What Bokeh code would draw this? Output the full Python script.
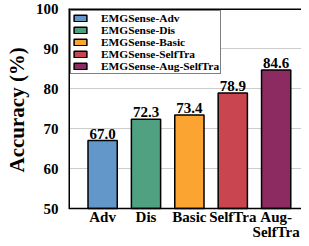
from bokeh.plotting import figure
from bokeh.models import ColumnDataSource, Range1d, FixedTicker, Legend, LegendItem, LabelSet, Title
from bokeh.core.properties import value
from bokeh.embed import file_html
from bokeh.resources import INLINE

categories = ["Adv", "Dis", "Basic", "SelfTra", "Aug-\nSelfTra"]
series_names = ["EMGSense-Adv", "EMGSense-Dis", "EMGSense-Basic", "EMGSense-SelfTra", "EMGSense-Aug-SelfTra"]
accuracy = [67.0, 72.3, 73.4, 78.9, 84.6]
colors = ["#6396C9", "#4FA182", "#FBA431", "#C94651", "#8C2A62"]
y_ticks = [50, 60, 70, 80, 90, 100]
y_min, y_max = 50, 100
y_title = "Accuracy (%)"

FONT = "Liberation Serif"

xs = list(range(len(categories)))
src = ColumnDataSource(dict(
    x=xs, y=accuracy, color=colors, name=series_names,
    label=[f"{v:.1f}" for v in accuracy],
))
cat_src = ColumnDataSource(dict(x=xs, y=[y_min] * len(xs), text=categories))

X0, X1 = -0.7865, 4.584
p = figure(width=301, height=238, output_backend="svg", toolbar_location=None,
           x_axis_location=None,
           x_range=Range1d(X0, X1), y_range=Range1d(42.5, y_max),
           min_border_left=62, min_border_right=0, min_border_top=8, min_border_bottom=0)

r = p.vbar(x="x", top="y", bottom=y_min, width=0.674, source=src, fill_color="color",
           line_color="black", line_width=1.5)

# frame lines (left, top, bottom at y=50)
p.segment(x0=[X0, X0], y0=[y_min, y_max], x1=[X0, X1], y1=[y_max, y_max],
          line_color="black", line_width=3)
p.segment(x0=[X0], y0=[y_min], x1=[X1], y1=[y_min], line_color="black", line_width=1.5)

labels = LabelSet(x="x", y="y", text="label", source=src, text_align="center",
                  text_baseline="bottom", y_offset=2, text_font=FONT,
                  text_font_style="bold", text_font_size="15px", text_color="black")
p.add_layout(labels)

# category labels under the axis line
p.text(x="x", y="y", text="text", source=cat_src, text_align="center",
       text_baseline="top", y_offset=0, text_font=value(FONT), text_font_style="bold",
       text_font_size="15px", text_color="black", text_line_height=0.95)

legend = Legend(items=[LegendItem(label=n, renderers=[r], index=i) for i, n in enumerate(series_names)],
                location="top_left")
legend.label_text_font = FONT
legend.label_text_font_style = "bold"
legend.label_text_font_size = "11.4px"
legend.label_text_color = "black"
legend.glyph_width = 16
legend.glyph_height = 8
legend.label_height = 8
legend.spacing = 0
legend.padding = 1
legend.margin = 2
legend.label_standoff = 13
legend.border_line_color = "black"
legend.border_line_width = 1
legend.background_fill_alpha = 1
p.add_layout(legend)

p.yaxis.ticker = FixedTicker(ticks=y_ticks)
p.yaxis.major_label_text_font = FONT
p.yaxis.major_label_text_font_style = "bold"
p.yaxis.major_label_text_font_size = "15px"
p.yaxis.major_label_text_color = "black"
p.yaxis.major_tick_line_color = None
p.yaxis.minor_tick_line_color = None
p.yaxis.axis_line_color = None
p.yaxis.major_label_standoff = 4

# y-axis title, placed in the left panel so it can be centred on the 50-100 span
ytitle = Title(text=y_title, align="left", offset=66, vertical_align="middle", standoff=6,
               text_font=FONT, text_font_style="bold", text_font_size="21px",
               text_color="black")
p.add_layout(ytitle, "left")

p.xgrid.grid_line_color = None
p.ygrid.grid_line_color = "#999999"
p.ygrid.grid_line_dash = "1 1"
p.ygrid.grid_line_width = 1

p.outline_line_color = None
p.background_fill_color = "white"
p.border_fill_color = "white"

open("out.html", "w").write(file_html(p, INLINE))
